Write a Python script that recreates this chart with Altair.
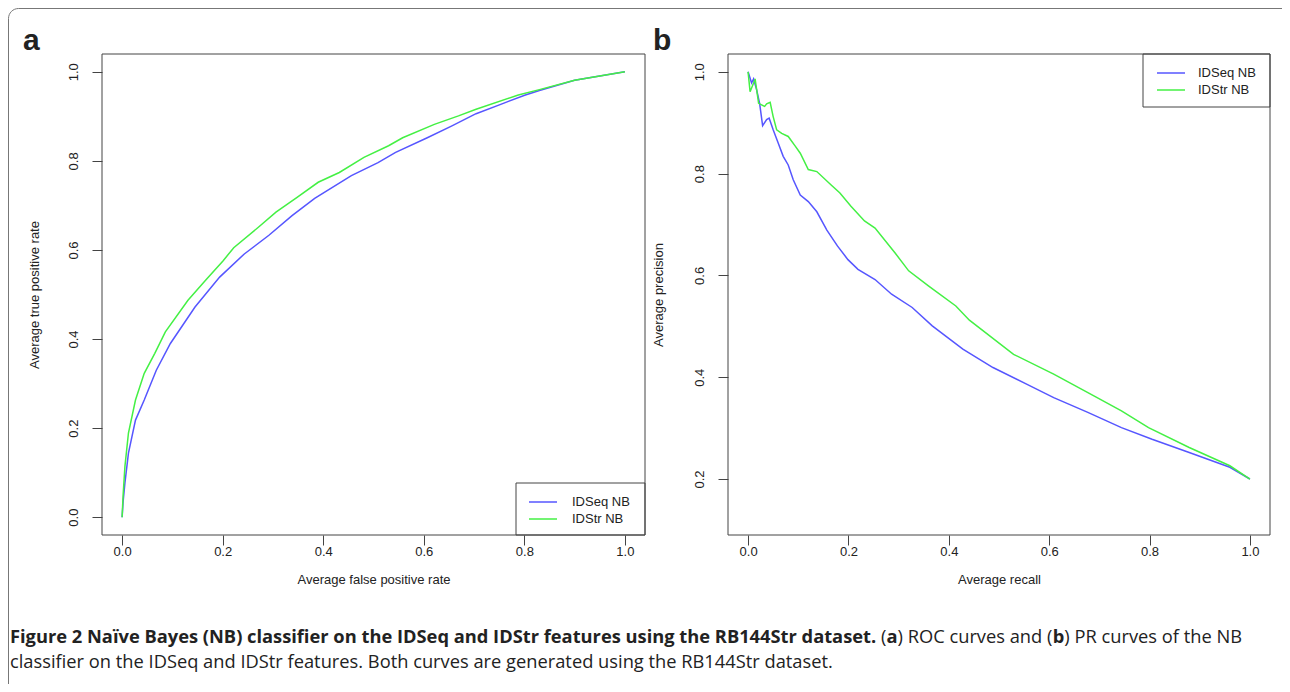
import altair as alt
import pandas as pd

# ---------------- data ----------------
series_names = ["IDSeq NB", "IDStr NB"]
series_colors = ["#5656ff", "#44f044"]

# (a) ROC curves
roc_seq_fpr = [0.0, 0.002, 0.0056, 0.0126, 0.0266, 0.044, 0.068, 0.096, 0.145, 0.194, 0.243, 0.292,
               0.338, 0.383, 0.456, 0.509, 0.544, 0.607, 0.655, 0.704, 0.753, 0.802, 0.830, 0.900, 1.0]
roc_seq_tpr = [0.0, 0.035, 0.077, 0.144, 0.218, 0.263, 0.330, 0.390, 0.472, 0.539, 0.591, 0.633,
               0.677, 0.716, 0.767, 0.796, 0.819, 0.852, 0.878, 0.906, 0.927, 0.948, 0.958, 0.981, 1.0]
roc_str_fpr = [0.0, 0.002, 0.0056, 0.0126, 0.0266, 0.044, 0.065, 0.086, 0.131, 0.166, 0.201, 0.222,
               0.271, 0.306, 0.348, 0.390, 0.432, 0.481, 0.530, 0.558, 0.621, 0.669, 0.704, 0.788,
               0.830, 0.900, 1.0]
roc_str_tpr = [0.0, 0.050, 0.114, 0.189, 0.263, 0.323, 0.368, 0.416, 0.487, 0.532, 0.576, 0.605,
               0.651, 0.685, 0.718, 0.752, 0.774, 0.808, 0.834, 0.852, 0.882, 0.901, 0.916, 0.948,
               0.960, 0.981, 1.0]

# (b) PR curves
pr_seq_recall = [0.0, 0.007, 0.011, 0.017, 0.023, 0.029, 0.037, 0.042, 0.050, 0.060, 0.070, 0.080,
                 0.090, 0.104, 0.120, 0.137, 0.157, 0.178, 0.199, 0.219, 0.253, 0.286, 0.327, 0.367,
                 0.428, 0.488, 0.556, 0.609, 0.677, 0.744, 0.805, 0.879, 0.960, 1.0]
pr_seq_prec = [1.0, 0.978, 0.986, 0.965, 0.938, 0.894, 0.906, 0.909, 0.886, 0.860, 0.834, 0.817,
               0.788, 0.758, 0.745, 0.725, 0.689, 0.658, 0.631, 0.612, 0.592, 0.563, 0.537, 0.501,
               0.455, 0.419, 0.386, 0.360, 0.331, 0.301, 0.278, 0.252, 0.223, 0.200]
pr_str_recall = [0.0, 0.004, 0.011, 0.014, 0.021, 0.027, 0.033, 0.037, 0.044, 0.050, 0.057, 0.067,
                 0.080, 0.094, 0.104, 0.120, 0.137, 0.165, 0.183, 0.205, 0.232, 0.253, 0.293, 0.320,
                 0.360, 0.414, 0.441, 0.529, 0.609, 0.690, 0.744, 0.798, 0.879, 0.960, 1.0]
pr_str_prec = [1.0, 0.961, 0.978, 0.986, 0.938, 0.935, 0.932, 0.937, 0.940, 0.912, 0.886, 0.879,
               0.873, 0.854, 0.840, 0.808, 0.804, 0.778, 0.762, 0.736, 0.707, 0.693, 0.644, 0.609,
               0.579, 0.540, 0.512, 0.445, 0.406, 0.363, 0.334, 0.301, 0.262, 0.226, 0.200]

x_ticks = [0.0, 0.2, 0.4, 0.6, 0.8, 1.0]
roc_y_ticks = [0.0, 0.2, 0.4, 0.6, 0.8, 1.0]
pr_y_ticks = [0.2, 0.4, 0.6, 0.8, 1.0]

caption_bold = "Figure 2 Naïve Bayes (NB) classifier on the IDSeq and IDStr features using the RB144Str dataset."
caption_line2 = "classifier on the IDSeq and IDStr features. Both curves are generated using the RB144Str dataset."


def frame(xs, ys, name):
    return pd.DataFrame({"x": xs, "y": ys, "series": name, "i": range(len(xs))})


roc_df = pd.concat([frame(roc_seq_fpr, roc_seq_tpr, series_names[0]),
                    frame(roc_str_fpr, roc_str_tpr, series_names[1])], ignore_index=True)
pr_df = pd.concat([frame(pr_seq_recall, pr_seq_prec, series_names[0]),
                   frame(pr_str_recall, pr_str_prec, series_names[1])], ignore_index=True)

FONT = "Liberation Sans"
CAP_FONT = "Open Sans"
CAP_SIZE = 18.3
TXT = "#222222"
LINE = "#444444"
W, H = 1274, 676

color_enc = alt.Color("series:N", scale=alt.Scale(domain=series_names, range=series_colors), legend=None)


def xaxis(title, offset):
    return alt.Axis(values=x_ticks, format=".1f", orient="bottom", offset=offset, domain=False, grid=False,
                    tickSize=10, tickColor=LINE, labelFont=FONT, labelFontSize=13, labelColor=TXT,
                    labelPadding=0, labelFlush=False, labelOverlap=False, title=title, titleFont=FONT,
                    titleFontSize=13, titleFontWeight="normal", titleColor=TXT, titleY=44,
                    titleBaseline="middle")


def yaxis(title, values, offset, title_x):
    return alt.Axis(values=values, format=".1f", orient="left", offset=offset, domain=False, grid=False,
                    tickSize=10, tickColor=LINE, labelFont=FONT, labelFontSize=13, labelColor=TXT,
                    labelAngle=270, labelAlign="center", labelBaseline="bottom", labelPadding=12,
                    labelFlush=False, labelOverlap=False, title=title, titleFont=FONT, titleFontSize=13,
                    titleFontWeight="normal", titleColor=TXT, titleAngle=270, titleAlign="center",
                    titleBaseline="middle", titleX=title_x, titleY=286.5)


roc = alt.Chart(roc_df).mark_line(strokeWidth=1.5).encode(
    x=alt.X("x:Q", scale=alt.Scale(domain=[-0.04, 1.04], range=[94, 637], nice=False, zero=False),
            axis=xaxis("Average false positive rate", 527 - H)),
    y=alt.Y("y:Q", scale=alt.Scale(domain=[-0.04, 1.04], range=[527, 46], nice=False, zero=False),
            axis=yaxis("Average true positive rate", roc_y_ticks, -94, -68)),
    color=color_enc,
    order="i:Q",
)

pr = alt.Chart(pr_df).mark_line(strokeWidth=1.5).encode(
    x=alt.X("x:Q", scale=alt.Scale(domain=[-0.04, 1.04], range=[720, 1262], nice=False, zero=False),
            axis=xaxis("Average recall", 527 - H)),
    y=alt.Y("y:Q", scale=alt.Scale(domain=[0.09, 1.035], range=[527, 46], nice=False, zero=False),
            axis=yaxis("Average precision", pr_y_ticks, -720, -70)),
    color=color_enc,
    order="i:Q",
)


def box(x1, x2, y1, y2, stroke=LINE, radius=0):
    return alt.Chart().mark_rect(fillOpacity=0, stroke=stroke, strokeWidth=1, cornerRadius=radius).encode(
        x=alt.value(x1), x2=alt.value(x2), y=alt.value(y1), y2=alt.value(y2))


def seg(x1, x2, y, color):
    return alt.Chart().mark_rule(color=color, strokeWidth=1.5).encode(
        x=alt.value(x1), x2=alt.value(x2), y=alt.value(y))


def txt(s, x, y, size=13, weight="normal", font=FONT, align="left", baseline="middle"):
    return alt.Chart().mark_text(font=font, fontSize=size, fontWeight=weight, color=TXT, align=align,
                                 baseline=baseline).encode(
        x=alt.value(x), y=alt.value(y), text=alt.value(s))


# caption segments of line 1 (bold lead-in, then regular text with bold panel letters)
cy1, cy2 = 635, 660
cx = [873.0, 878.4, 889.5, 1044.7, 1056.3]

layers = [
    box(0.5, 1400, 0.5, 900, stroke="#777777", radius=10),  # figure border
    box(94, 637, 46, 527),
    box(720, 1262, 46, 527),
    roc,
    pr,
    # legend (a)
    box(508, 637, 475, 527),
    seg(521, 549, 494, series_colors[0]),
    seg(521, 549, 511, series_colors[1]),
    txt(series_names[0], 564, 494),
    txt(series_names[1], 564, 511),
    # legend (b)
    box(1135, 1262, 46, 99),
    seg(1149, 1177, 65, series_colors[0]),
    seg(1149, 1177, 82, series_colors[1]),
    txt(series_names[0], 1190, 65),
    txt(series_names[1], 1190, 82),
    # panel letters
    txt("a", 15, 42, size=30, weight="bold", baseline="alphabetic"),
    txt("b", 645, 42, size=30, weight="bold", baseline="alphabetic"),
    # caption
    txt(caption_bold, 2, cy1, size=CAP_SIZE, weight="bold", font=CAP_FONT, baseline="alphabetic"),
    txt("(", cx[0], cy1, size=CAP_SIZE, font=CAP_FONT, baseline="alphabetic"),
    txt("a", cx[1], cy1, size=CAP_SIZE, weight="bold", font=CAP_FONT, baseline="alphabetic"),
    txt(") ROC curves and (", cx[2], cy1, size=CAP_SIZE, font=CAP_FONT, baseline="alphabetic"),
    txt("b", cx[3], cy1, size=CAP_SIZE, weight="bold", font=CAP_FONT, baseline="alphabetic"),
    txt(") PR curves of the NB", cx[4], cy1, size=CAP_SIZE, font=CAP_FONT, baseline="alphabetic"),
    txt(caption_line2, 2, cy2, size=CAP_SIZE, font=CAP_FONT, baseline="alphabetic"),
]

chart = alt.layer(*layers).resolve_scale(x="independent", y="independent", color="independent").properties(
    width=W, height=H, padding=0, autosize=alt.AutoSizeParams(type="none"), background="white"
).configure_view(strokeWidth=0)

chart.save("out.html", embed_options={"renderer": "svg", "actions": False})
